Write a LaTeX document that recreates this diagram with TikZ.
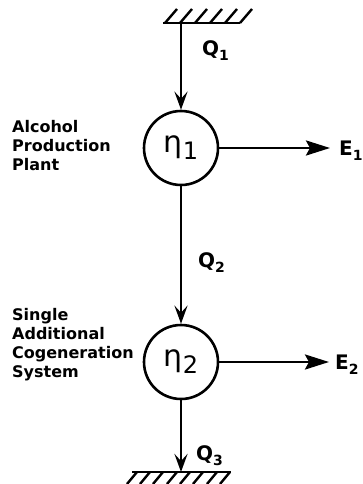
\documentclass[tikz,border=0pt]{standalone}
\usepackage{fontspec}
\newfontfamily\labfont{DejaVu Sans}
\usetikzlibrary{arrows.meta}
\tikzset{
  proc/.style={circle,draw,line width=2.6pt,minimum size=74pt,inner sep=0pt},
  flow/.style={line width=2.8pt},
  varrow/.style={flow,-{Stealth[length=18pt,width=13pt,inset=7pt]}},
  harrow/.style={flow,-{Stealth[length=24pt,width=15pt,inset=4pt]}},
  lbl/.style={font=\labfont\bfseries\fontsize{16}{19}\selectfont,align=left,inner sep=0pt},
  qlbl/.style={font=\labfont\bfseries\fontsize{20}{20}\selectfont,inner sep=0pt},
  hatch/.style={line width=2.4pt}
}
\newcommand{\subq}[2]{#1\raisebox{-5pt}{\fontsize{14}{14}\selectfont #2}}
\newcommand{\etasub}[1]{\labfont\fontsize{30}{30}\selectfont η\raisebox{-7pt}{\fontsize{24}{24}\selectfont #1}}
\begin{document}
\begin{tikzpicture}[x=1pt,y=-1pt]
\useasboundingbox (0,0) rectangle (363,484);
% top ground
\coordinate (topg) at (181,23);
\draw[hatch] (163,23) -- (240,23);
\foreach \x in {165,180,195,210,225,240} \draw[hatch] (\x,23) -- ++(12,-14);
% bottom ground
\coordinate (botg) at (181,472);
\draw[hatch] (132,472) -- (231,472);
\foreach \x in {137,150,163,177,190,203,217,230} \draw[hatch] (\x,472) -- ++(-10,12);
% processes
\node[proc] (p1) at (181,148) {\etasub{1}};
\node[proc] (p2) at (181,362) {\etasub{2}};
% outputs
\coordinate (e1) at (330,148);
\coordinate (e2) at (329,362);
\node[qlbl,anchor=west] (E1) at (339,151) {\subq{E}{1}};
\node[qlbl,anchor=west] (E2) at (335,365) {\subq{E}{2}};
% flows
\draw[varrow] (topg) -- (p1.north);
\draw[varrow] (p1.south) -- (p2.north);
\draw[varrow] (p2.south) -- (botg);
\draw[harrow] (p1.east) -- (e1);
\draw[harrow] (p2.east) -- (e2);
% Q labels
\node[qlbl,anchor=west] (q1) at (202,51) {\subq{Q}{1}};
\node[qlbl,anchor=west] (q2) at (198,263) {\subq{Q}{2}};
\node[qlbl,anchor=west] (q3) at (196,456) {\subq{Q}{3}};
% side labels
\node[lbl,anchor=north west] (t1) at (12,120) {Alcohol\\Production\\Plant};
\node[lbl,anchor=north west] (t2) at (12,308) {Single\\Additional\\Cogeneration\\System};
\end{tikzpicture}
\end{document}
